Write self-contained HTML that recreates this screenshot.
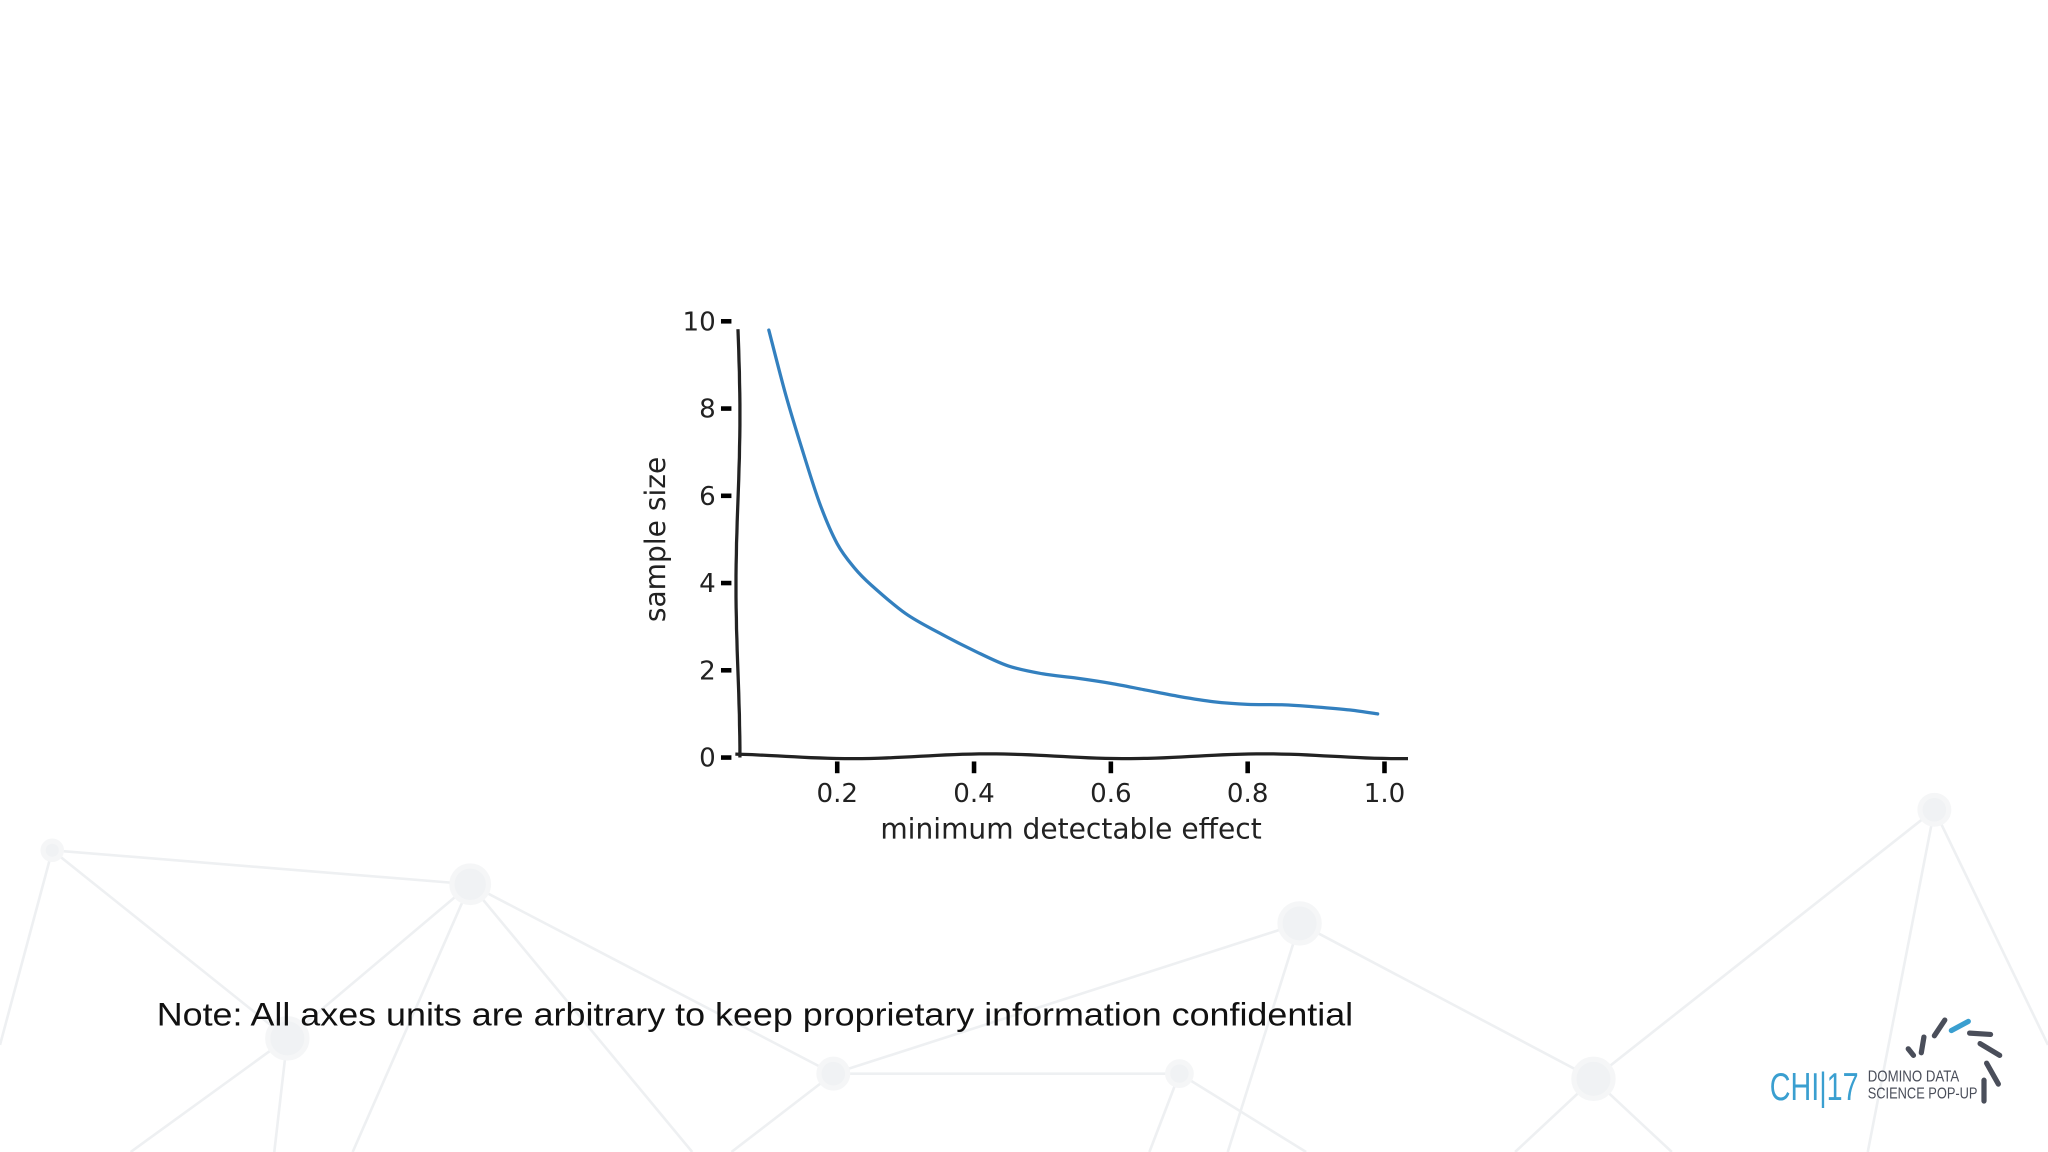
<!DOCTYPE html>
<html><head><meta charset="utf-8"><style>
html,body{margin:0;padding:0;background:#fff;}
svg{display:block;}
</style></head><body>
<svg id="root" width="2048" height="1152" viewBox="0 0 1568 882" xmlns="http://www.w3.org/2000/svg">
<g id="bg" stroke="#eef0f2" stroke-width="2" fill="none">
  <line x1="40" y1="651" x2="360" y2="677"/>
  <line x1="40" y1="651" x2="0" y2="800"/>
  <line x1="40" y1="651" x2="220" y2="795"/>
  <line x1="360" y1="677" x2="220" y2="795"/>
  <line x1="360" y1="677" x2="638" y2="822"/>
  <line x1="360" y1="677" x2="270" y2="882"/>
  <line x1="360" y1="677" x2="530" y2="882"/>
  <line x1="220" y1="795" x2="210" y2="882"/>
  <line x1="220" y1="795" x2="100" y2="882"/>
  <line x1="995" y1="707" x2="638" y2="822"/>
  <line x1="995" y1="707" x2="1220" y2="826"/>
  <line x1="995" y1="707" x2="940" y2="882"/>
  <line x1="638" y1="822" x2="903" y2="822"/>
  <line x1="638" y1="822" x2="560" y2="882"/>
  <line x1="903" y1="822" x2="880" y2="882"/>
  <line x1="903" y1="822" x2="1000" y2="882"/>
  <line x1="1481" y1="620" x2="1220" y2="826"/>
  <line x1="1481" y1="620" x2="1568" y2="800"/>
  <line x1="1481" y1="620" x2="1430" y2="882"/>
  <line x1="1220" y1="826" x2="1160" y2="882"/>
  <line x1="1220" y1="826" x2="1280" y2="882"/>
  <g fill="#f0f2f4" stroke="#f5f6f7" stroke-width="4">
    <circle cx="40" cy="651" r="7"/><circle cx="360" cy="677" r="14"/>
    <circle cx="995" cy="707" r="15"/><circle cx="1481" cy="620" r="11"/>
    <circle cx="220" cy="795" r="15"/><circle cx="638" cy="822" r="11"/>
    <circle cx="903" cy="822" r="9"/><circle cx="1220" cy="826" r="15"/>
  </g>
</g>
<g id="chart"></g>
<text x="120" y="785" font-family="'Liberation Sans',sans-serif" font-size="25" fill="#111" textLength="916" lengthAdjust="spacingAndGlyphs">Note: All axes units are arbitrary to keep proprietary information confidential</text>
<g>
  <text x="1355" y="842" font-family="'Liberation Sans',sans-serif" font-size="30" fill="#3a9fd0" textLength="68" lengthAdjust="spacingAndGlyphs">CHI|17</text>
  <text x="1430" y="828" font-family="'Liberation Sans',sans-serif" font-size="12" fill="#4a4e5a" textLength="70" lengthAdjust="spacingAndGlyphs">DOMINO DATA</text>
  <text x="1430" y="841" font-family="'Liberation Sans',sans-serif" font-size="12" fill="#4a4e5a" textLength="84" lengthAdjust="spacingAndGlyphs">SCIENCE POP-UP</text>
  <g stroke-width="4" stroke-linecap="round" stroke="#4a4e5a">
    <line x1="1461" y1="803" x2="1465" y2="808"/>
    <line x1="1471" y1="806" x2="1473" y2="794"/>
    <line x1="1481" y1="793" x2="1489" y2="781"/>
    <line x1="1494" y1="789" x2="1507" y2="782" stroke="#3a9fd0"/>
    <line x1="1508" y1="791" x2="1524" y2="792"/>
    <line x1="1516" y1="799" x2="1531" y2="808"/>
    <line x1="1521" y1="814" x2="1530" y2="830"/>
    <line x1="1519" y1="827" x2="1519" y2="843"/>
  </g>
</g>
</svg>
<script>
const xValues = [0.1,0.125,0.15,0.175,0.2,0.225,0.25,0.3,0.35,0.4,0.45,0.5,0.55,0.6,0.65,0.7,0.75,0.8,0.85,0.9,0.95,0.99];
const yValues = [9.8,8.3,7.0,5.8,4.9,4.35,3.95,3.3,2.85,2.45,2.1,1.92,1.82,1.7,1.55,1.4,1.28,1.22,1.21,1.16,1.09,1.0];
const xTicks = [0.2,0.4,0.6,0.8,1.0];
const xTickLabels = ["0.2","0.4","0.6","0.8","1.0"];
const yTicks = [0,2,4,6,8,10];
const yTickLabels = ["0","2","4","6","8","10"];

const NS = "http://www.w3.org/2000/svg";
const g = document.getElementById('chart');
const X = v => 641 + (v - 0.2) * (1060 - 641) / 0.8;
const Y = v => 580 - v * (580 - 246) / 10;
function mk(tag, attrs){const e=document.createElementNS(NS,tag);for(const k in attrs)e.setAttribute(k,attrs[k]);g.appendChild(e);return e;}
const font = "'DejaVu Sans','Liberation Sans',sans-serif";

let d = "";
for (let i=0;i<=40;i++){const yy=252+i*(580-252)/40;const xx=565+Math.sin(i/40*Math.PI*2.5)*1.5;d+=(i?"L":"M")+xx.toFixed(1)+","+yy.toFixed(1);}
const ya = mk('path',{d:d,fill:'none',stroke:'#222','stroke-width':2.5});


d="";
for (let i=0;i<=80;i++){const xx=563+i*(1078-563)/80;const yy=579+Math.sin((xx-600)/210*Math.PI*2)*1.8;d+=(i?"L":"M")+xx.toFixed(1)+","+yy.toFixed(1);}
const xa = mk('path',{d:d,fill:'none',stroke:'#222','stroke-width':2.5});



yTicks.forEach((t,i)=>{
  const tk = mk('line',{x1:552,x2:560,y1:Y(t),y2:Y(t),stroke:'#000','stroke-width':3.5});
  
  
  const lb = mk('text',{x:548,y:Y(t)+7,'text-anchor':'end','font-family':font,'font-size':20,fill:'#222'});
  lb.textContent = yTickLabels[i];
  
  
});
xTicks.forEach((t,i)=>{
  const tk = mk('line',{x1:X(t),x2:X(t),y1:583,y2:592,stroke:'#000','stroke-width':3.5});
  
  
  const lb = mk('text',{x:X(t),y:614,'text-anchor':'middle','font-family':font,'font-size':20,fill:'#222'});
  lb.textContent = xTickLabels[i];
  
  
});
const xt = mk('text',{x:820,y:642,'text-anchor':'middle','font-family':font,'font-size':21.5,fill:'#222'});
xt.textContent = "minimum detectable effect";


const yt = mk('text',{x:0,y:0,'text-anchor':'middle','font-family':font,'font-size':21.5,fill:'#222',transform:'translate(509,413) rotate(-90)'});
yt.textContent = "sample size";



const pts = xValues.map((x,i)=>[X(x),Y(yValues[i])]);
let p = "M"+pts[0][0]+","+pts[0][1];
for(let i=0;i<pts.length-1;i++){
  const p0=pts[Math.max(0,i-1)],p1=pts[i],p2=pts[i+1],p3=pts[Math.min(pts.length-1,i+2)];
  const c1=[p1[0]+(p2[0]-p0[0])/6,p1[1]+(p2[1]-p0[1])/6];
  const c2=[p2[0]-(p3[0]-p1[0])/6,p2[1]-(p3[1]-p1[1])/6];
  p+="C"+c1.join(",")+" "+c2.join(",")+" "+p2.join(",");
}
const line = mk('path',{d:p,fill:'none',stroke:'#3380bf','stroke-width':2.5,'stroke-linecap':'round'});


</script>
</body></html>
